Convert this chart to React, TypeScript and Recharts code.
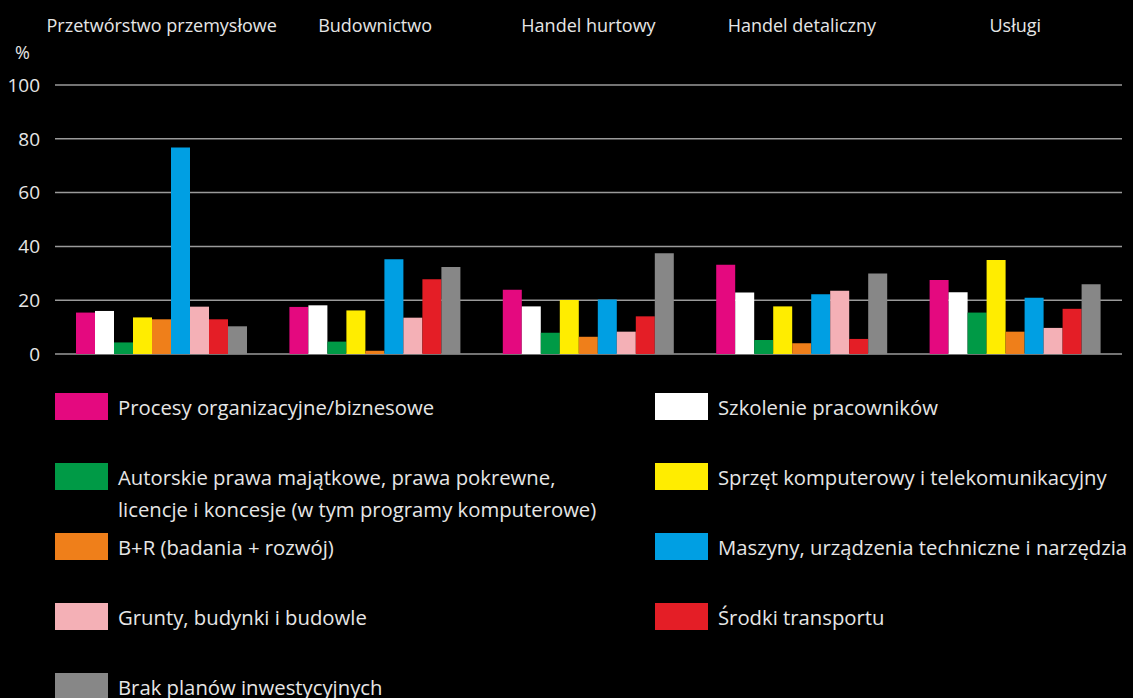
import React from 'react';
import { BarChart, Bar, XAxis, YAxis, CartesianGrid } from 'recharts';

const categories = ['Przetwórstwo przemysłowe', 'Budownictwo', 'Handel hurtowy', 'Handel detaliczny', 'Usługi'];
const procesy = [15.4, 17.5, 23.9, 33.2, 27.5];
const szkolenie = [16.0, 18.1, 17.7, 22.9, 23.0];
const autorskie = [4.3, 4.6, 7.9, 5.2, 15.4];
const sprzet = [13.6, 16.2, 20.1, 17.7, 34.9];
const br = [12.9, 1.2, 6.4, 4.0, 8.3];
const maszyny = [76.8, 35.2, 20.3, 22.2, 20.9];
const grunty = [17.6, 13.5, 8.3, 23.5, 9.7];
const transport = [12.9, 27.8, 14.0, 5.6, 16.8];
const brak = [10.3, 32.3, 37.5, 29.9, 25.9];
const yTicks = [0, 20, 40, 60, 80, 100];

const series = [
  { key: 'procesy', name: 'Procesy organizacyjne/biznesowe', color: '#e4097f', values: procesy },
  { key: 'szkolenie', name: 'Szkolenie pracowników', color: '#ffffff', values: szkolenie },
  { key: 'autorskie', name: 'Autorskie prawa majątkowe, prawa pokrewne,\nlicencje i koncesje (w tym programy komputerowe)', color: '#009a46', values: autorskie },
  { key: 'sprzet', name: 'Sprzęt komputerowy i telekomunikacyjny', color: '#ffed00', values: sprzet },
  { key: 'br', name: 'B+R (badania + rozwój)', color: '#ef7f1a', values: br },
  { key: 'maszyny', name: 'Maszyny, urządzenia techniczne i narzędzia', color: '#009fe3', values: maszyny },
  { key: 'grunty', name: 'Grunty, budynki i budowle', color: '#f4b0b6', values: grunty },
  { key: 'transport', name: 'Środki transportu', color: '#e41e26', values: transport },
  { key: 'brak', name: 'Brak planów inwestycyjnych', color: '#878787', values: brak },
];

const data = categories.map((c, i) => {
  const row: Record<string, any> = { category: c };
  series.forEach((s) => { row[s.key] = s.values[i]; });
  return row;
});

const textColor = '#e6e6e6';
const font = '"Open Sans", sans-serif';

function LegendBox() {
  return (
    <div style={{ position: 'absolute', left: 55, top: 391, width: 1078, display: 'grid', gridTemplateColumns: '600px 478px', gridAutoRows: '70px', fontFamily: font, color: textColor }}>
      {series.map((s) => (
        <div key={s.key} style={{ display: 'flex', alignItems: 'flex-start' }}>
          <div style={{ width: 53, height: 27, marginTop: 2, background: s.color, flexShrink: 0 }} />
          <div style={{ marginLeft: 10, fontSize: 20.3, lineHeight: '32px', whiteSpace: 'pre' }}>{s.name}</div>
        </div>
      ))}
    </div>
  );
}

export default function App() {
  return (
    <div style={{ position: 'absolute', left: 0, top: 0, width: 1133, height: 698, background: '#000', overflow: 'hidden', fontFamily: font }}>
      <style>{'body{margin:0;background:#000}'}</style>
      <BarChart
        width={1133}
        height={698}
        data={data}
        margin={{ top: 25, right: 11, bottom: 344, left: 0 }}
        barCategoryGap={21}
        barGap={0}
      >
        <CartesianGrid vertical={false} stroke="#9a9a9a" strokeWidth={1.5} />
        <XAxis
          dataKey="category"
          orientation="top"
          height={60}
          axisLine={false}
          tickLine={false}
          tickSize={0}
          tickMargin={53}
          interval={0}
          tick={{ fill: textColor, fontSize: 18 }}
        />
        <YAxis
          domain={[0, 100]}
          ticks={yTicks}
          width={55}
          axisLine={false}
          tickLine={false}
          tickSize={0}
          tickMargin={15}
          tick={{ fill: textColor, fontSize: 19 }}
          label={{ value: '%', position: 'top', offset: 26, dx: -5, fill: textColor, fontSize: 18 }}
        />
        {series.map((s) => (
          <Bar key={s.key} dataKey={s.key} name={s.name} fill={s.color} isAnimationActive={false} />
        ))}
      </BarChart>
      <LegendBox />
    </div>
  );
}
